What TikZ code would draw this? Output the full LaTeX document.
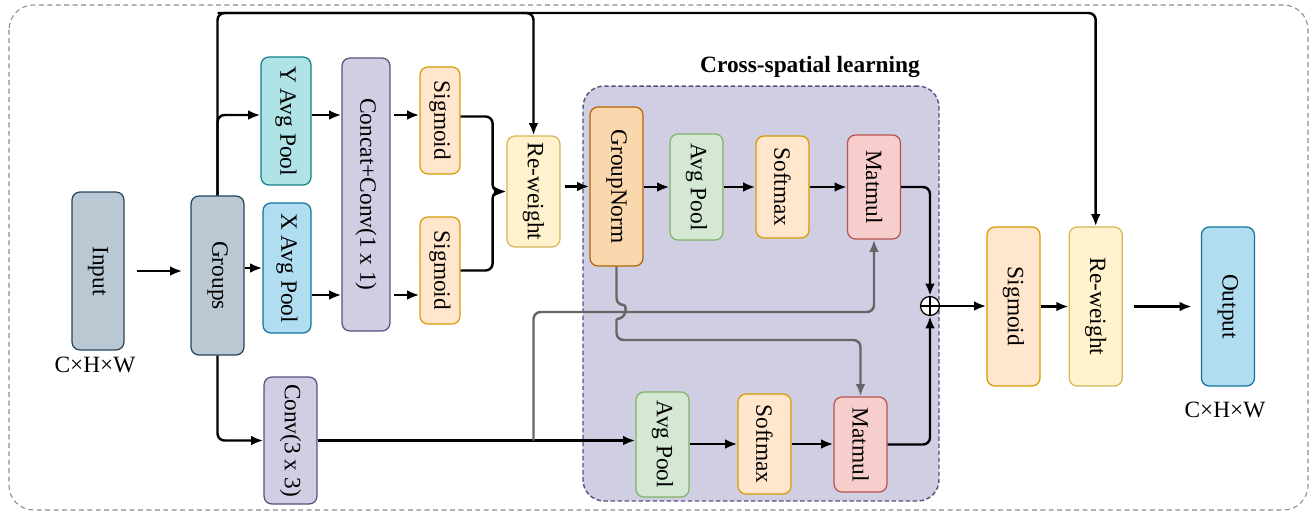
\documentclass[tikz,border=0pt]{standalone}
\usepackage{fontspec}
\setmainfont{Liberation Serif}
\usepackage{graphicx}
\usetikzlibrary{positioning, arrows.meta}

\definecolor{grpFill}{HTML}{BAC8D3}
\definecolor{grpLine}{HTML}{23445D}
\definecolor{yapFill}{HTML}{B0E3E6}
\definecolor{yapLine}{HTML}{0E8088}
\definecolor{xapFill}{HTML}{B1DDF0}
\definecolor{xapLine}{HTML}{10739E}
\definecolor{purFill}{HTML}{D0CEE2}
\definecolor{purLine}{HTML}{56517E}
\definecolor{oraFill}{HTML}{FFE6CC}
\definecolor{oraLine}{HTML}{D79B00}
\definecolor{yelFill}{HTML}{FFF2CC}
\definecolor{yelLine}{HTML}{D6B656}
\definecolor{gnFill}{HTML}{FAD7AC}
\definecolor{gnLine}{HTML}{B46504}
\definecolor{grnFill}{HTML}{D5E8D4}
\definecolor{grnLine}{HTML}{82B366}
\definecolor{redFill}{HTML}{F8CECC}
\definecolor{redLine}{HTML}{B85450}

\newcommand{\vlabel}[1]{\rotatebox{-90}{#1}}

\tikzstyle{normalBox} = [shape=rectangle, rounded corners=4.5pt, line width=0.7pt,
	align=center, inner sep=0pt, minimum width=1.06cm]
\tikzstyle{grayBox} = [normalBox, fill=grpFill, draw=grpLine]
\tikzstyle{purpleBox} = [normalBox, fill=purFill, draw=purLine, minimum width=0.96cm]
\tikzstyle{orangeBox} = [normalBox, fill=oraFill, draw=oraLine]
\tikzstyle{yellowBox} = [normalBox, fill=yelFill, draw=yelLine]
\tikzstyle{greenBox} = [normalBox, fill=grnFill, draw=grnLine]
\tikzstyle{redBox} = [normalBox, fill=redFill, draw=redLine]
\tikzstyle{lineArrow} = [line width=1.4pt, -{Latex[length=7pt,width=5.5pt]}, rounded corners=4pt, draw=black]
\tikzstyle{grayLine} = [line width=1.4pt, rounded corners=4pt, draw=black!60]
\tikzstyle{grayArrow} = [grayLine, -{Latex[length=7pt,width=5.5pt]}]
\tikzstyle{outerFrame} = [draw=black!45, dash pattern=on 2.8pt off 2pt, rounded corners=14pt, line width=0.6pt]
\tikzstyle{groupArea} = [draw=purLine, fill=purFill, dash pattern=on 2.5pt off 1.5pt, rounded corners=12pt, line width=0.8pt]

\begin{document}
\begin{tikzpicture}[x=0.02cm, y=-0.02cm, font=\fontsize{13.3}{16}\selectfont]
  \useasboundingbox (0,0) rectangle (1315,512);
  \draw[outerFrame] (9,5) rectangle (1308,510);

  % cross-spatial part
  \node (csl) at (761,293.5) [groupArea, minimum width=7.12cm, minimum height=8.3cm] {};
  \node (title) at (810,67) {\bfseries Cross-spatial learning};

  \node (input) at (98,271) [grayBox, minimum width=1.04cm, minimum height=3.16cm] {\vlabel{Input}};
  \node (dimIn) at (95,365) {C×H×W};
  \node (groups) at (217.5,275.5) [grayBox, minimum height=3.18cm] {\vlabel{Groups}};
  \node (yap) at (286,121) [normalBox, fill=yapFill, draw=yapLine, minimum width=1.0cm, minimum height=2.56cm] {\vlabel{Y Avg Pool}};
  \node (xap) at (287,268) [normalBox, fill=xapFill, draw=xapLine, minimum width=0.96cm, minimum height=2.6cm] {\vlabel{X Avg Pool}};
  \node (concat) at (366,194.5) [purpleBox, minimum height=5.46cm] {\vlabel{Concat+Conv(1 x 1)}};
  \node (sig1) at (440,120.5) [orangeBox, minimum width=0.8cm, minimum height=2.14cm] {\vlabel{Sigmoid}};
  \node (sig2) at (440,270.5) [orangeBox, minimum width=0.8cm, minimum height=2.14cm] {\vlabel{Sigmoid}};
  \node (conv) at (290.5,440.5) [purpleBox, minimum width=1.06cm, minimum height=2.54cm] {\vlabel{Conv(3 x 3)}};
  \node (rw1) at (533.5,191.5) [yellowBox, minimum height=2.22cm] {\vlabel{Re-weight}};

  \node (gn) at (616.5,186.5) [normalBox, fill=gnFill, draw=gnLine, minimum height=3.18cm] {\vlabel{GroupNorm}};
  \node (apt) at (696.5,187) [greenBox, minimum height=2.12cm] {\vlabel{Avg Pool}};
  \node (smt) at (782.5,187) [orangeBox, minimum height=2.04cm] {\vlabel{Softmax}};
  \node (mmt) at (874,187) [redBox, minimum height=2.08cm] {\vlabel{Matmul}};
  \node (apb) at (662.5,444.5) [greenBox, minimum height=2.1cm] {\vlabel{Avg Pool}};
  \node (smb) at (764.5,444) [orangeBox, minimum height=2.0cm] {\vlabel{Softmax}};
  \node (mmb) at (860.5,444.5) [redBox, minimum height=1.9cm] {\vlabel{Matmul}};

  \node (plus) at (930,306) [circle, draw=black, fill=white, line width=0.7pt, minimum size=0.38cm, inner sep=0pt,
    path picture={\draw[line width=0.7pt] (path picture bounding box.north) -- (path picture bounding box.south)
      (path picture bounding box.west) -- (path picture bounding box.east);}] {};
  \node (sigr) at (1013.5,306.5) [orangeBox, minimum height=3.18cm] {\vlabel{Sigmoid}};
  \node (rw2) [right=0.56cm of sigr, yellowBox, minimum height=3.18cm] {\vlabel{Re-weight}};
  \node (output) [right=1.56cm of rw2, normalBox, fill=xapFill, draw=xapLine, minimum height=3.18cm] {\vlabel{Output}};
  \node (dimOut) at (1225,410) {C×H×W};

  % connectors
  \draw[lineArrow, shorten <=0.24cm, shorten >=0.16cm] (input.east) -- (input.east -| groups.west);
  \coordinate (bus) at (groups.north |- 0,13);
  \draw[lineArrow] (groups.north) -- (bus) -| (rw2.north);
  \draw[lineArrow] (bus) -| (rw1.north);
  \draw[lineArrow] (groups.north) |- ([yshift=0.12cm]yap.west);
  \draw[lineArrow] (groups.east |- xap.west) -- (xap.west);
  \draw[lineArrow] (groups.south) |- (conv.west);
  \draw[lineArrow] ([yshift=0.12cm]yap.east) -- ([yshift=0.12cm]yap.east -| concat.west);
  \draw[lineArrow] ([yshift=-0.54cm]xap.east) -- ([yshift=-0.54cm]xap.east -| concat.west);
  \draw[lineArrow, shorten <=2pt] ([yshift=0.12cm]yap.east -| concat.east) -- ([yshift=0.12cm]yap.east -| sig1.west);
  \draw[lineArrow, shorten <=2pt] ([yshift=-0.54cm]xap.east -| concat.east) -- ([yshift=-0.54cm]xap.east -| sig2.west);
  \draw[lineArrow] ([yshift=0.08cm]sig1.east) -- ++(32,0) |- (rw1.west);
  \draw[lineArrow] (sig2.east) -- ++(32,0) |- (rw1.west);
  \draw[lineArrow, shorten <=0.08cm] (rw1.east |- gn.west) -- (gn.west);
  \draw[lineArrow] (gn.east |- apt.west) -- (apt.west);
  \draw[lineArrow] (apt.east) -- (smt.west);
  \draw[lineArrow] (smt.east) -- (smt.east -| mmt.west);
  \draw[lineArrow] (mmt.east) -| (plus.north);
  \draw[lineArrow] (conv.east) -- (conv.east -| apb.west);
  \draw[lineArrow] (apb.east |- smb.west) -- (smb.west);
  \draw[lineArrow] (smb.east) -- (smb.east -| mmb.west);
  \draw[lineArrow] (mmb.east) -| (plus.south);
  \draw[lineArrow] (plus.east) -- (plus.east -| sigr.west);
  \draw[lineArrow] (sigr.east) -- (rw2.west);
  \draw[lineArrow, shorten <=0.22cm, shorten >=0.18cm] (rw2.east) -- (output.west);

  \draw[grayArrow] (rw1 |- conv.east) -- (rw1 |- 0,312) -| (mmt.south);
  \coordinate (hopA) at (gn.south |- 0,305);
  \coordinate (hopB) at (gn.south |- 0,319);
  \draw[grayLine] (gn.south) -- (hopA) .. controls ([xshift=0.21cm]hopA) and ([xshift=0.21cm]hopB) .. (hopB);
  \draw[grayArrow] (hopB) -- (gn.south |- 0,340) -| (mmb.north);
\end{tikzpicture}
\end{document}
